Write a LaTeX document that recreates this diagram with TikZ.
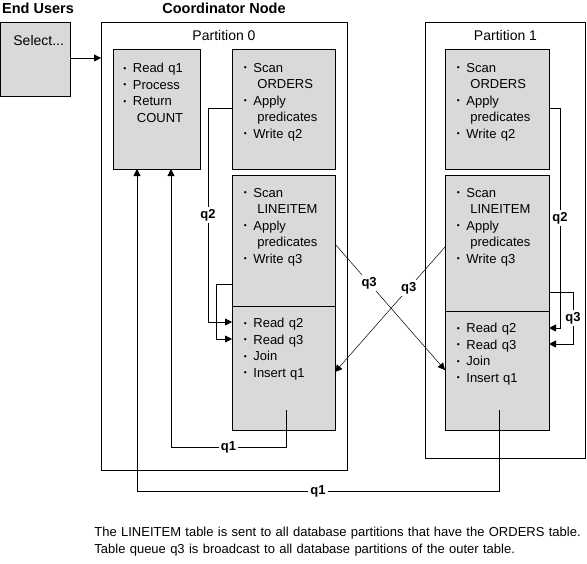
\documentclass[tikz,border=0pt]{standalone}
\usepackage{fontspec}
\setmainfont{Liberation Sans}
\usetikzlibrary{arrows.meta, positioning}

\newcommand{\bul}{\makebox[9.5pt][l]{\fontsize{8.5}{8.5}\selectfont\raisebox{1.5pt}{•}}}
\newcommand{\cont}{\hspace*{13.5pt}}

\begin{document}
\begin{tikzpicture}[>={Triangle[length=7pt,width=7pt]}, x=1pt, y=-1pt, line width=0.8pt,
  part/.style={draw, inner sep=0pt, outer sep=0pt, anchor=north west},
  box/.style={part, fill=gray!30},
  plain/.style={font=\fontsize{13}{16.5}\selectfont, inner sep=0pt},
  steps/.style={plain, align=left, text width=90pt, anchor=north west},
  lbl/.style={font=\bfseries\fontsize{13}{13}\selectfont, fill=white, inner sep=2pt},
  heading/.style={font=\bfseries\fontsize{14.5}{14.5}\selectfont, inner sep=0pt}]

\useasboundingbox (0,0) rectangle (587,563);

% Headings
\node[heading] (users) at (38,8) {End Users};
\node[heading] (coord) at (224,8) {Coordinator Node};

% End user query
\node[box, minimum width=70, minimum height=74] (select) at (0.5,22) {};
\node[plain, anchor=west, font=\fontsize{14}{16.5}\selectfont] (selectt) at (13,40) {Select...};

% Partitions
\node[part, minimum width=246, minimum height=448] (part0) at (101,22) {};
\node[part, minimum width=160, minimum height=436] (part1) at (425.5,22) {};
\node[plain, font=\fontsize{14}{16.5}\selectfont, below=8pt of part0.north] (part0t) {Partition 0};
\node[plain, font=\fontsize{14}{16.5}\selectfont, below=8pt of part1.north] (part1t) {Partition 1};

% Partition 0 boxes
\node[box, minimum width=87, minimum height=120] (read) at (113,49) {};
\node[box, minimum width=103, minimum height=120] (scan0) at (232,49) {};
\node[box, minimum width=103, minimum height=131] (line0) at (232,175) {};
\node[box, minimum width=103, minimum height=124] (join0) at (232,306) {};
\node[steps] (readt) at ([xshift=10pt,yshift=-14pt]read.north west)
  {\bul Read q1\\ \bul Process\\ \bul Return\\ \cont COUNT};
\node[steps] (scan0t) at ([xshift=11.5pt,yshift=-14pt]scan0.north west)
  {\bul Scan\\ \cont ORDERS\\ \bul Apply\\ \cont predicates\\ \bul Write q2};
\node[steps] (line0t) at ([xshift=11.5pt,yshift=-13pt]line0.north west)
  {\bul Scan\\ \cont LINEITEM\\ \bul Apply\\ \cont predicates\\ \bul Write q3};
\node[steps] (join0t) at ([xshift=11.5pt,yshift=-12pt]join0.north west)
  {\bul Read q2\\ \bul Read q3\\ \bul Join\\ \bul Insert q1};

% Partition 1 boxes
\node[box, minimum width=104, minimum height=120] (scan1) at (445,49) {};
\node[box, minimum width=104, minimum height=136] (line1) at (445,175) {};
\node[box, minimum width=104, minimum height=119] (join1) at (445,311) {};
\node[steps] (scan1t) at ([xshift=11.5pt,yshift=-14pt]scan1.north west)
  {\bul Scan\\ \cont ORDERS\\ \bul Apply\\ \cont predicates\\ \bul Write q2};
\node[steps] (line1t) at ([xshift=11.5pt,yshift=-13pt]line1.north west)
  {\bul Scan\\ \cont LINEITEM\\ \bul Apply\\ \cont predicates\\ \bul Write q3};
\node[steps] (join1t) at ([xshift=11.5pt,yshift=-12pt]join1.north west)
  {\bul Read q2\\ \bul Read q3\\ \bul Join\\ \bul Insert q1};

% Query to coordinator
\draw[->] ([yshift=-36pt]select.north east) -- ([yshift=-36pt]part0.north west);

% Local table queues
\draw[->] ([yshift=-59pt]scan0.north west) -- ++(-24,0)
  |- node[lbl,pos=0.25] (q2a) {q2} ([yshift=-16pt]join0.north west);
\draw[->] ([yshift=-109pt]line0.north west) -- ++(-16,0) |- ([yshift=-33pt]join0.north west);
\draw[->] ([yshift=-59pt]scan1.north east) -- ++(11,0)
  |- node[lbl,pos=0.25] (q2b) {q2} ([yshift=-17pt]join1.north east);
\draw[->] ([yshift=-117pt]line1.north east) -- ++(24,0)
  |- node[lbl,pos=0.25] (q3c) {q3} ([yshift=-33pt]join1.north east);

% Broadcast of q3
\draw[->, line width=0.5pt] ([yshift=-69pt]line0.north east)
  -- node[lbl,pos=0.31] (q3a) {q3} ([yshift=-59pt]join1.north west);
\draw[->, line width=0.5pt] ([yshift=-72pt]line1.north west)
  -- node[lbl,pos=0.33] (q3b) {q3} ([yshift=-66pt]join0.north east);

% Results back to coordinator
\draw[->] ([xshift=2.5pt,yshift=20pt]join0.south) -- ++(0,37)
  -| node[lbl,pos=0.25] (q1a) {q1} ([xshift=14.5pt]read.south);
\draw[->] ([xshift=2pt,yshift=20pt]join1.south) -- ++(0,81)
  -| node[lbl,pos=0.25] (q1b) {q1} ([xshift=-19.5pt]read.south);

% Note
\node[steps, text width=500pt] (note) at (94,527)
  {The LINEITEM table is sent to all database partitions that have the ORDERS table.\\
   Table queue q3 is broadcast to all database partitions of the outer table.};

\end{tikzpicture}
\end{document}
